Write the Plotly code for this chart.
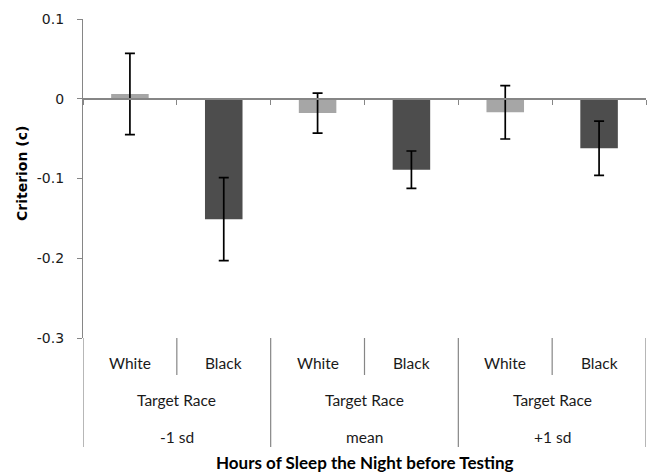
import plotly.graph_objects as go

# ---- data ----
sleep_groups = ["-1 sd", "mean", "+1 sd"]
target_races = ["White", "Black"]
criterion = [0.006, -0.151, -0.018, -0.089, -0.017, -0.062]
criterion_err = [0.051, 0.052, 0.025, 0.0235, 0.0335, 0.034]
race_label = "Target Race"
y_ticks = [0.1, 0, -0.1, -0.2, -0.3]
y_tick_labels = ["0.1", "0", "-0.1", "-0.2", "-0.3"]
y_title = "Criterion (c)"
x_title = "Hours of Sleep the Night before Testing"

race_colors = {"White": "#A6A6A6", "Black": "#4D4D4D"}
axis_color = "#868686"

n_groups = len(sleep_groups)
n_races = len(target_races)
x_pos = list(range(n_groups * n_races))
bar_races = [r for g in sleep_groups for r in target_races]
bar_colors = [race_colors[r] for r in bar_races]

# paper-y helpers (plot area spans 319 px: 19..338)
plot_h = 319.0
def py(px_below):  # pixels below plot bottom -> paper y
    return -px_below / plot_h

fig = go.Figure()
fig.add_trace(go.Bar(
    x=x_pos, y=criterion, width=0.4,
    marker=dict(color=bar_colors, line=dict(width=0)),
    error_y=dict(type="data", array=criterion_err, visible=True,
                 color="#000000", thickness=1.7, width=5),
    hoverinfo="y", showlegend=False,
))

shapes = []
annotations = []
# left axis extension, right edge and group separators
for k in range(n_groups + 1):
    xb = k * n_races - 0.5
    shapes.append(dict(type="line", xref="x", yref="paper", x0=xb, x1=xb,
                       y0=0, y1=py(109), line=dict(color=axis_color, width=1.2)))
# inner separators
for g in range(n_groups):
    xb = g * n_races + 0.5
    shapes.append(dict(type="line", xref="x", yref="paper", x0=xb, x1=xb,
                       y0=0, y1=py(37), line=dict(color=axis_color, width=1.2)))

lab_font = dict(family="Lato, Calibri, sans-serif", size=15.5, color="#1a1a1a")
for i, r in zip(x_pos, bar_races):
    annotations.append(dict(x=i, y=py(25), xref="x", yref="paper", text=r,
                            showarrow=False, font=lab_font,
                            xanchor="center", yanchor="middle"))
for g, name in enumerate(sleep_groups):
    cx = g * n_races + (n_races - 1) / 2
    annotations.append(dict(x=cx, y=py(62), xref="x", yref="paper", text=race_label,
                            showarrow=False, font=lab_font,
                            xanchor="center", yanchor="middle"))
    annotations.append(dict(x=cx, y=py(99), xref="x", yref="paper", text=name,
                            showarrow=False, font=lab_font,
                            xanchor="center", yanchor="middle"))
annotations.append(dict(x=0.5, y=py(124), xref="paper", yref="paper",
                        text="<b>" + x_title + "</b>", showarrow=False,
                        font=dict(family="Lato, Calibri, sans-serif", size=17, color="#000"),
                        xanchor="center", yanchor="middle"))
annotations.append(dict(x=(22 - 83) / 563, y=(338 - 174) / plot_h, xref="paper", yref="paper",
                        text="<b>" + y_title + "</b>", textangle=-90, showarrow=False,
                        font=dict(family="DejaVu Sans, Verdana, sans-serif", size=14, color="#000"),
                        xanchor="center", yanchor="middle"))

fig.update_layout(
    width=650, height=473,
    margin=dict(l=83, r=4, t=19, b=135, pad=0),
    paper_bgcolor="white", plot_bgcolor="white",
    shapes=shapes, annotations=annotations,
    xaxis=dict(range=[-0.5, n_groups * n_races - 0.5], anchor="free", position=0.75,
               showline=True, linecolor=axis_color, linewidth=1.5,
               ticks="outside", ticklen=5, tickwidth=1.2, tickcolor=axis_color,
               tickmode="array", tickvals=[k - 0.5 for k in range(n_groups * n_races + 1)],
               showticklabels=False, showgrid=False, zeroline=False, fixedrange=True),
    yaxis=dict(range=[-0.3, 0.1], tickmode="array", tickvals=y_ticks, ticktext=y_tick_labels,
               showline=True, linecolor=axis_color, linewidth=1.2,
               ticks="outside", ticklen=5, tickwidth=1.2, tickcolor=axis_color,
               ticklabelstandoff=10,
               tickfont=dict(family="DejaVu Sans, Verdana, sans-serif", size=14, color="#1a1a1a"),
               showgrid=False, zeroline=False, fixedrange=True),
)

fig.write_html("out.html", config={"displayModeBar": False},
               post_script="document.body.style.margin='0';document.body.style.overflow='hidden';")
